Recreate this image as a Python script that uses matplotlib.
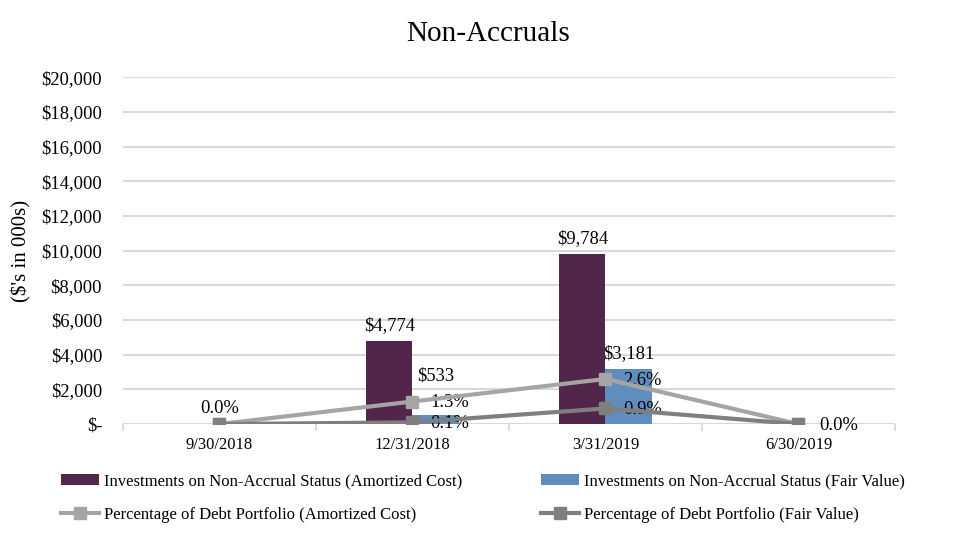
import matplotlib
matplotlib.use('Agg')
import matplotlib.pyplot as plt
import numpy as np

# ── Data ──────────────────────────────────────────────────────────────────
quarters = ['9/30/2018', '12/31/2018', '3/31/2019', '6/30/2019']
amortized_cost = [0, 4774, 9784, 0]      # $000s
fair_value = [0, 533, 3181, 0]           # $000s
pct_amortized = [0.0, 1.3, 2.6, 0.0]     # % of debt portfolio
pct_fair = [0.0, 0.1, 0.9, 0.0]

# ── Style ─────────────────────────────────────────────────────────────────
PURPLE = '#51264A'
BLUE = '#5F8DBD'
LIGHT = '#A5A5A5'
DARK = '#7F7F7F'
GRID = '#D9D9D9'
LBL = 13.3
plt.rcParams['font.family'] = ['Liberation Serif', 'DejaVu Serif']

fig = plt.figure(figsize=(9.76, 5.43), dpi=100)
ax = fig.add_axes([0.126, 0.219, 0.791, 0.639])

x = np.arange(len(quarters))
w = 0.24
b1 = ax.bar(x - w / 2, amortized_cost, width=w, color=PURPLE, zorder=2,
            label='Investments on Non-Accrual Status (Amortized Cost)')
b2 = ax.bar(x + w / 2, fair_value, width=w, color=BLUE, zorder=2,
            label='Investments on Non-Accrual Status (Fair Value)')

# value labels above the bars (the small $533 one sits higher to clear the lines)
for bars, vals, offs in ((b1, amortized_cost, [0, 5, 5, 0]),
                         (b2, fair_value, [0, 22, 5, 0])):
    for bar, v, off in zip(bars, vals, offs):
        if v > 0:
            ax.annotate(f'${v:,}', (bar.get_x() + bar.get_width() / 2, v),
                        xytext=(0, off), textcoords='offset points',
                        ha='center', va='bottom', fontsize=LBL)

ax.set_ylim(0, 20000)
ax.set_yticks(np.arange(0, 20001, 2000))
ax.set_yticklabels(['$-'] + [f'${v:,}' for v in range(2000, 20001, 2000)])
ax.set_xlim(-0.5, len(quarters) - 0.5)
ax.set_xticks(x)
ax.set_xticklabels(quarters)
ax.set_xticks(np.arange(-0.5, len(quarters)), minor=True)
ax.tick_params(axis='x', which='major', length=0, pad=9, labelsize=12)
ax.tick_params(axis='x', which='minor', length=5, color=GRID, width=1.3)
ax.tick_params(axis='y', length=0, pad=15, labelsize=LBL)
ax.grid(axis='y', color=GRID, linewidth=1.5, zorder=0)
ax.set_axisbelow(True)
for s in ax.spines.values():
    s.set_visible(False)
ax.set_ylabel("($'s in 000s)", fontsize=15, labelpad=7)

# secondary scale for the percentages (hidden)
ax2 = ax.twinx()
ax2.set_ylim(0, 20)
ax2.axis('off')
ax2.plot(x, pct_amortized, color=LIGHT, linewidth=3, marker='s', markersize=8.5,
         zorder=4, label='Percentage of Debt Portfolio (Amortized Cost)')
ax2.plot(x, pct_fair, color=DARK, linewidth=3, marker='s', markersize=8.5,
         zorder=5, label='Percentage of Debt Portfolio (Fair Value)')

ax2.annotate('0.0%', (x[0], pct_fair[0]), xytext=(0, 5), textcoords='offset points',
             ha='center', va='bottom', fontsize=LBL)
for i in (1, 2):
    ax2.annotate(f'{pct_amortized[i]:.1f}%', (x[i], pct_amortized[i]), xytext=(13, -1),
                 textcoords='offset points', ha='left', va='center', fontsize=LBL)
    ax2.annotate(f'{pct_fair[i]:.1f}%', (x[i], pct_fair[i]), xytext=(13, -1),
                 textcoords='offset points', ha='left', va='center', fontsize=LBL)
ax2.annotate('0.0%', (x[3], pct_fair[3]), xytext=(15, -1), textcoords='offset points',
             ha='left', va='center', fontsize=LBL)

fig.text(0.5, 0.937, 'Non-Accruals', ha='center', va='center', fontsize=21)

h1, l1 = ax.get_legend_handles_labels()
h2, l2 = ax2.get_legend_handles_labels()
fig.legend([h1[0], h2[0], h1[1], h2[1]], [l1[0], l2[0], l1[1], l2[1]],
           ncol=2, loc='upper left', bbox_to_anchor=(0.0625, 0.128),
           frameon=False, fontsize=12, handlelength=2.3, handletextpad=0.3,
           columnspacing=4.7, labelspacing=1.05, borderpad=0, borderaxespad=0)

fig.savefig('out.png', dpi=100, facecolor='white')
